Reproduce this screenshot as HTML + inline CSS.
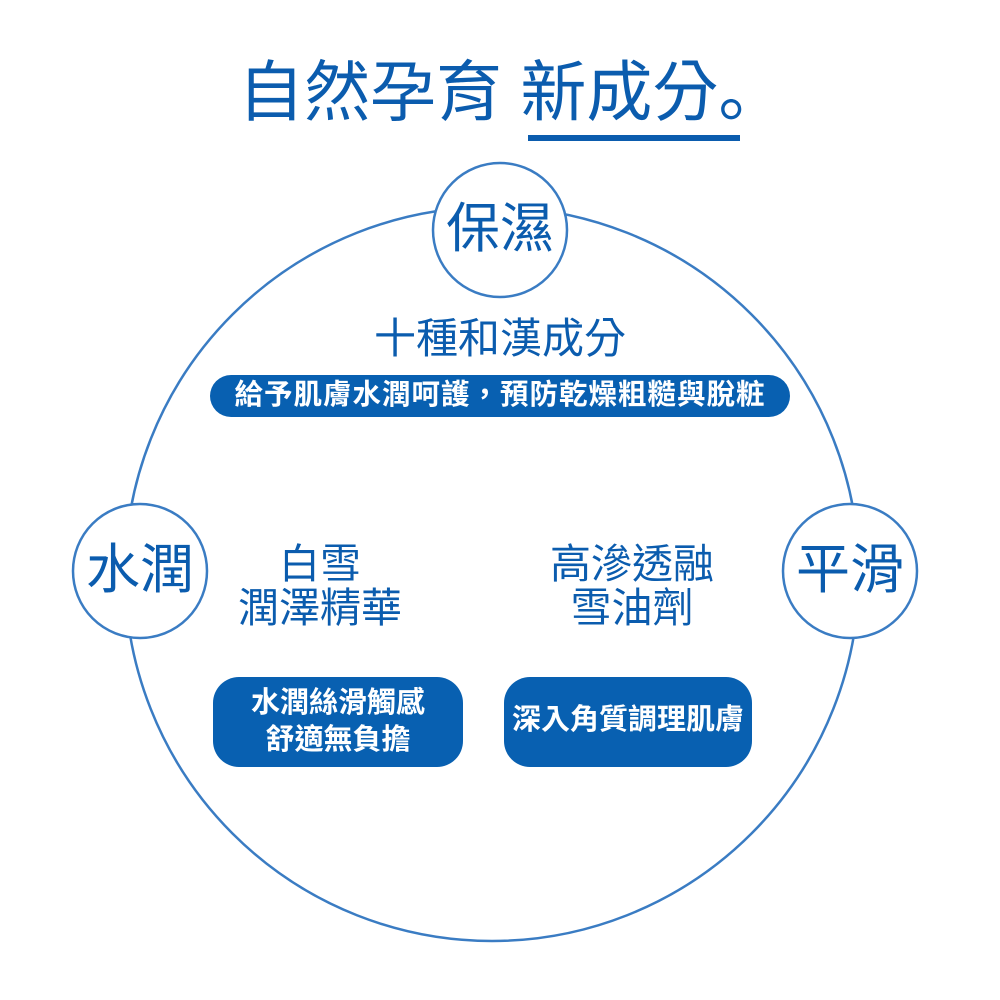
<!DOCTYPE html>
<html><head><meta charset="utf-8"><style>
html,body{margin:0;padding:0;background:#fff;}
body{width:1000px;height:1000px;position:relative;overflow:hidden;font-family:"Liberation Sans","Noto Sans CJK TC",sans-serif;color:#0b5cae;}
.t{position:absolute;white-space:nowrap;line-height:1;}
.c{text-align:center;}
</style></head><body>
<svg width="1000" height="1000" style="position:absolute;left:0;top:0">
<circle cx="492" cy="574" r="367" fill="none" stroke="#3a7cc3" stroke-width="2.5"/>
<circle cx="500" cy="230" r="67" fill="#fff" stroke="#3a7cc3" stroke-width="2.5"/>
<circle cx="140" cy="571" r="67" fill="#fff" stroke="#3a7cc3" stroke-width="2.5"/>
<circle cx="850" cy="571" r="67" fill="#fff" stroke="#3a7cc3" stroke-width="2.5"/>
<rect x="528" y="135" width="212" height="6" fill="#0b5cae"/>
<rect x="210" y="375" width="580" height="42" rx="21" fill="#0860b1"/>
<rect x="213" y="677" width="250" height="90" rx="26" fill="#0860b1"/>
<rect x="504" y="677" width="248" height="90" rx="26" fill="#0860b1"/>
</svg>
<div class="t" style="left:238px;top:54px;font-size:66px;">自然孕育 新成分<span style="font-family:'Noto Sans CJK JP',sans-serif;">。</span></div>
<div class="t c" style="left:400px;width:200px;top:202px;font-size:54px;">保濕</div>
<div class="t c" style="left:40px;width:200px;top:543px;font-size:54px;">水潤</div>
<div class="t c" style="left:750px;width:200px;top:543px;font-size:54px;">平滑</div>
<div class="t c" style="left:300px;width:400px;top:318px;font-size:42px;">十種和漢成分</div>
<div class="t c" style="left:190px;width:620px;top:381px;font-size:28.5px;letter-spacing:1px;font-weight:bold;color:#fff;">給予肌膚水潤呵護，預防乾燥粗糙與脫粧</div>
<div class="t c" style="left:170px;width:300px;top:542px;font-size:41px;line-height:44px;">白雪<br>潤澤精華</div>
<div class="t c" style="left:482px;width:300px;top:542px;font-size:41px;line-height:44px;">高滲透融<br>雪油劑</div>
<div class="t c" style="left:213px;width:250px;top:685px;font-size:29px;font-weight:bold;line-height:37px;color:#fff;">水潤絲滑觸感<br>舒適無負擔</div>
<div class="t c" style="left:504px;width:248px;top:706px;font-size:29px;font-weight:bold;color:#fff;">深入角質調理肌膚</div>
</body></html>
